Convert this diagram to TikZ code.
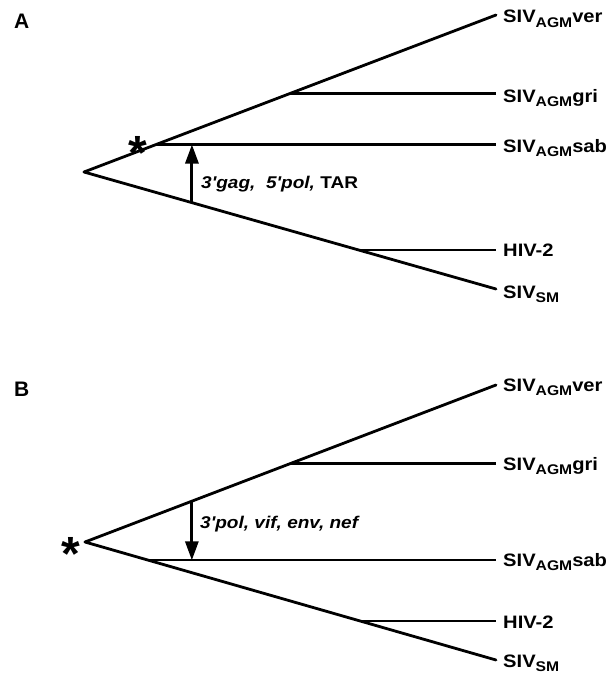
\documentclass[tikz,border=0pt]{standalone}
\usepackage{fontspec}
\setmainfont{Liberation Sans}
\newfontfamily\lblfont[FakeStretch=1.12]{Liberation Sans}
\usetikzlibrary{arrows.meta,calc}
\newcommand{\sbs}[1]{\raisebox{-4.5pt}{\fontsize{14}{14}\selectfont #1}}
\begin{document}
\begin{tikzpicture}[x=1pt,y=-1pt,
  tree/.style={line width=2.8pt, line cap=round},
  twig/.style={line width=2.2pt},
  leaf/.style={anchor=base west, inner sep=0pt, font=\lblfont\bfseries\fontsize{18}{20}\selectfont},
  gene/.style={anchor=base west, inner sep=0pt, font=\lblfont\bfseries\fontsize{17}{19}\selectfont},
  panel/.style={anchor=base west, inner sep=0pt, font=\bfseries\fontsize{21}{24}\selectfont},
  star/.style={anchor=base, inner sep=0pt, font=\bfseries\fontsize{48}{48}\selectfont},
  transfer/.style={line width=3pt, -{Triangle[length=19pt,width=13pt]}}]
\useasboundingbox (0,0) rectangle (613,677);
% ---------- Panel A ----------
\node[panel] (aLab) at (14,29) {A};
\coordinate (aR) at (84,172);
\coordinate (aU) at (496,15);
\coordinate (aL) at (496,289);
\coordinate (aSab) at ($(aR)!0.175!(aU)$);
\coordinate (aGri) at ($(aR)!0.5!(aU)$);
\coordinate (aHiv) at ($(aR)!0.67!(aL)$);
\coordinate (aArr) at ($(aR)!0.262!(aL)$);
\node[leaf] (aVerL) at (503,23) {SIV\sbs{AGM}ver};
\node[leaf] (aGriL) at (503,102) {SIV\sbs{AGM}gri};
\node[leaf] (aSabL) at (503,152) {SIV\sbs{AGM}sab};
\node[leaf] (aHivL) at (503,256) {HIV-2};
\node[leaf] (aSmL) at (503,298) {SIV\sbs{SM}};
\draw[tree] (aR) -- (aU);
\draw[tree] (aR) -- (aL);
\draw[twig] (aSab) -- (aSab -| aU);
\draw[twig] (aGri) -- (aGri -| aU);
\draw[twig] (aHiv) -- (aHiv -| aU);
\draw[transfer] (aArr) -- (aArr |- aSab);
\node[gene] (aGene) at (201,188) {\itshape 3'gag,\ \ 5'pol,\upshape\ TAR};
\node[star] (aStar) at (138,169.5) {*};
% ---------- Panel B ----------
\node[panel] (bLab) at (14,396) {B};
\coordinate (bR) at (85,542);
\coordinate (bU) at (496,385);
\coordinate (bL) at (496,660);
\coordinate (bGri) at ($(bR)!0.5!(bU)$);
\coordinate (bSab) at ($(bR)!0.155!(bL)$);
\coordinate (bHiv) at ($(bR)!0.67!(bL)$);
\coordinate (bArr) at ($(bR)!0.26!(bU)$);
\node[leaf] (bVerL) at (503,391) {SIV\sbs{AGM}ver};
\node[leaf] (bGriL) at (503,470) {SIV\sbs{AGM}gri};
\node[leaf] (bSabL) at (503,566) {SIV\sbs{AGM}sab};
\node[leaf] (bHivL) at (503,628) {HIV-2};
\node[leaf] (bSmL) at (503,667) {SIV\sbs{SM}};
\draw[tree] (bR) -- (bU);
\draw[tree] (bR) -- (bL);
\draw[twig] (bGri) -- (bGri -| bU);
\draw[twig] (bSab) -- (bSab -| bU);
\draw[twig] (bHiv) -- (bHiv -| bU);
\draw[transfer] (bArr) -- (bArr |- bSab);
\node[gene] (bGene) at (200,528) {\itshape 3'pol, vif, env, nef};
\node[star] (bStar) at (71,570.5) {*};
\end{tikzpicture}
\end{document}
